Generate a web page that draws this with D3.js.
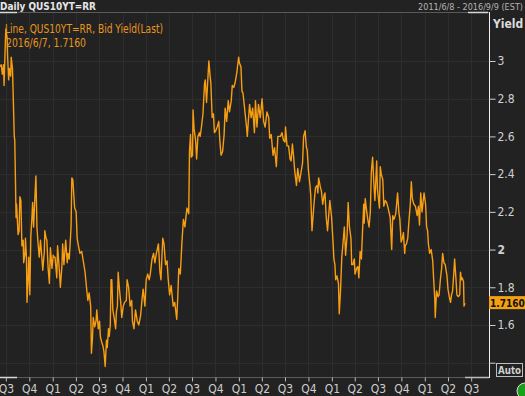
<!DOCTYPE html>
<html>
<head>
<meta charset="utf-8">
<title>QUS10YT=RR</title>
<script src="https://cdn.jsdelivr.net/npm/d3@7"></script>
<style>
  html, body { margin: 0; padding: 0; background: #222222; overflow: hidden; }
  svg { display: block; }
  text { font-family: "DejaVu Sans Condensed", "Liberation Sans Narrow", "DejaVu Sans", sans-serif; }
</style>
</head>
<body>
<svg id="chart" width="525" height="396"></svg>
<script>
// chart texts
var titleText = "Daily QUS10YT=RR";
var rangeText = "2011/6/8 - 2016/9/9 (EST)";
var legendLine1 = "Line, QUS10YT=RR, Bid Yield(Last)";
var legendLine2 = "2016/6/7, 1.7160";
var lastValue = 1.716;
var lastLabel = "1.7160";

var startDate = "2011-06-08";
var endDate = "2016-09-09";
var yTicks = [1.4, 1.6, 1.8, 2, 2.2, 2.4, 2.6, 2.8, 3];

// daily bid yield
var yieldSeries = [
["2011-06-08",2.97],["2011-06-13",2.98],["2011-06-17",2.93],["2011-06-22",2.98],["2011-06-24",2.87],
["2011-06-29",3.10],["2011-07-01",3.17],["2011-07-06",3.12],["2011-07-08",3.02],["2011-07-12",2.90],
["2011-07-15",2.96],["2011-07-20",2.92],["2011-07-22",3.02],["2011-07-27",2.96],["2011-07-29",2.86],
["2011-08-03",2.60],["2011-08-05",2.58],["2011-08-08",2.34],["2011-08-10",2.17],["2011-08-12",2.24],
["2011-08-18",2.08],["2011-08-22",2.10],["2011-08-25",2.28],["2011-08-29",2.26],["2011-09-02",2.02],
["2011-09-07",2.05],["2011-09-09",1.93],["2011-09-14",1.98],["2011-09-16",2.06],["2011-09-20",1.95],
["2011-09-22",1.72],["2011-09-26",1.84],["2011-09-29",1.96],["2011-10-03",1.76],["2011-10-07",2.07],
["2011-10-11",2.16],["2011-10-14",2.25],["2011-10-18",2.12],["2011-10-21",2.22],["2011-10-27",2.39],
["2011-10-31",2.12],["2011-11-04",2.04],["2011-11-09",1.96],["2011-11-14",2.05],["2011-11-18",1.98],
["2011-11-23",1.89],["2011-11-29",1.99],["2011-12-01",2.10],["2011-12-06",2.06],["2011-12-09",2.05],
["2011-12-14",1.90],["2011-12-19",1.82],["2011-12-23",2.01],["2011-12-29",1.90],["2012-01-03",1.97],
["2012-01-06",1.96],["2012-01-10",1.96],["2012-01-17",1.85],["2012-01-20",2.02],["2012-01-27",1.89],
["2012-01-31",1.80],["2012-02-06",1.91],["2012-02-09",2.03],["2012-02-14",1.92],["2012-02-21",2.05],
["2012-02-27",1.93],["2012-03-01",1.98],["2012-03-06",1.95],["2012-03-13",2.12],["2012-03-16",2.38],
["2012-03-20",2.37],["2012-03-27",2.22],["2012-04-02",2.20],["2012-04-06",2.06],["2012-04-11",2.02],
["2012-04-17",1.98],["2012-04-24",1.99],["2012-05-01",1.93],["2012-05-07",1.88],["2012-05-14",1.78],
["2012-05-18",1.73],["2012-05-23",1.77],["2012-05-29",1.70],["2012-06-01",1.45],["2012-06-05",1.53],
["2012-06-08",1.64],["2012-06-14",1.59],["2012-06-19",1.62],["2012-06-22",1.68],["2012-06-28",1.58],
["2012-07-03",1.62],["2012-07-06",1.54],["2012-07-11",1.51],["2012-07-16",1.49],["2012-07-20",1.46],
["2012-07-25",1.38],["2012-07-30",1.52],["2012-08-02",1.48],["2012-08-07",1.58],["2012-08-10",1.54],
["2012-08-14",1.60],["2012-08-17",1.84],["2012-08-20",1.84],["2012-08-24",1.68],["2012-08-29",1.64],
["2012-09-04",1.58],["2012-09-07",1.67],["2012-09-11",1.70],["2012-09-14",1.88],["2012-09-19",1.79],
["2012-09-24",1.72],["2012-09-28",1.64],["2012-10-04",1.70],["2012-10-09",1.72],["2012-10-16",1.73],
["2012-10-19",1.84],["2012-10-25",1.80],["2012-10-31",1.70],["2012-11-06",1.73],["2012-11-09",1.62],
["2012-11-15",1.58],["2012-11-21",1.68],["2012-11-28",1.62],["2012-12-04",1.60],["2012-12-11",1.65],
["2012-12-17",1.74],["2012-12-21",1.79],["2012-12-28",1.70],["2013-01-02",1.84],["2013-01-08",1.87],
["2013-01-14",1.84],["2013-01-18",1.87],["2013-01-25",1.95],["2013-01-31",1.98],["2013-02-05",1.93],
["2013-02-11",1.98],["2013-02-19",2.03],["2013-02-25",1.88],["2013-03-01",1.84],["2013-03-08",2.06],
["2013-03-13",2.03],["2013-03-19",1.92],["2013-03-25",1.94],["2013-03-29",1.85],["2013-04-04",1.76],
["2013-04-10",1.81],["2013-04-18",1.70],["2013-04-24",1.72],["2013-05-02",1.63],["2013-05-06",1.75],
["2013-05-10",1.90],["2013-05-16",1.87],["2013-05-22",2.03],["2013-05-28",2.16],["2013-06-03",2.12],
["2013-06-11",2.22],["2013-06-18",2.19],["2013-06-21",2.52],["2013-06-25",2.61],["2013-06-28",2.49],
["2013-07-03",2.50],["2013-07-05",2.74],["2013-07-09",2.64],["2013-07-15",2.58],["2013-07-19",2.48],
["2013-07-24",2.60],["2013-07-30",2.62],["2013-08-02",2.60],["2013-08-07",2.65],["2013-08-13",2.72],
["2013-08-19",2.88],["2013-08-22",2.90],["2013-08-27",2.78],["2013-09-05",3.00],["2013-09-10",2.92],
["2013-09-13",2.88],["2013-09-18",2.70],["2013-09-23",2.72],["2013-09-27",2.62],["2013-10-02",2.63],
["2013-10-08",2.65],["2013-10-14",2.68],["2013-10-18",2.58],["2013-10-23",2.50],["2013-10-29",2.52],
["2013-11-04",2.61],["2013-11-08",2.75],["2013-11-14",2.68],["2013-11-20",2.79],["2013-11-25",2.73],
["2013-12-02",2.79],["2013-12-06",2.87],["2013-12-12",2.86],["2013-12-18",2.89],["2013-12-24",2.94],
["2013-12-31",3.02],["2014-01-03",2.99],["2014-01-09",2.97],["2014-01-13",2.84],["2014-01-17",2.83],
["2014-01-24",2.74],["2014-01-31",2.65],["2014-02-03",2.60],["2014-02-07",2.68],["2014-02-12",2.77],
["2014-02-18",2.70],["2014-02-24",2.75],["2014-03-03",2.62],["2014-03-07",2.79],["2014-03-13",2.65],
["2014-03-19",2.77],["2014-03-26",2.70],["2014-04-02",2.80],["2014-04-08",2.68],["2014-04-14",2.65],
["2014-04-21",2.73],["2014-04-28",2.70],["2014-05-02",2.59],["2014-05-08",2.61],["2014-05-15",2.50],
["2014-05-21",2.54],["2014-05-28",2.44],["2014-06-03",2.60],["2014-06-09",2.60],["2014-06-13",2.60],
["2014-06-19",2.62],["2014-06-25",2.58],["2014-07-01",2.57],["2014-07-03",2.65],["2014-07-09",2.55],
["2014-07-15",2.55],["2014-07-21",2.48],["2014-07-25",2.47],["2014-07-30",2.56],["2014-08-04",2.49],
["2014-08-08",2.42],["2014-08-15",2.34],["2014-08-20",2.43],["2014-08-27",2.36],["2014-09-02",2.41],
["2014-09-08",2.46],["2014-09-12",2.60],["2014-09-18",2.63],["2014-09-23",2.54],["2014-09-26",2.53],
["2014-10-01",2.42],["2014-10-07",2.34],["2014-10-10",2.29],["2014-10-15",2.10],["2014-10-20",2.19],
["2014-10-24",2.26],["2014-10-29",2.33],["2014-11-04",2.34],["2014-11-07",2.30],["2014-11-10",2.38],
["2014-11-17",2.33],["2014-11-21",2.31],["2014-11-26",2.24],["2014-12-02",2.29],["2014-12-05",2.30],
["2014-12-10",2.17],["2014-12-15",2.10],["2014-12-19",2.17],["2014-12-24",2.26],["2014-12-31",2.17],
["2015-01-06",2.03],["2015-01-09",1.95],["2015-01-13",1.92],["2015-01-16",1.84],["2015-01-21",1.86],
["2015-01-27",1.82],["2015-01-30",1.66],["2015-02-04",1.78],["2015-02-09",1.96],["2015-02-13",2.02],
["2015-02-19",2.12],["2015-02-24",1.97],["2015-03-02",2.08],["2015-03-06",2.25],["2015-03-11",2.12],
["2015-03-17",2.06],["2015-03-20",1.92],["2015-03-25",1.92],["2015-03-30",1.95],["2015-04-02",1.87],
["2015-04-08",1.90],["2015-04-13",1.91],["2015-04-17",1.85],["2015-04-22",1.99],["2015-04-27",1.95],
["2015-04-30",2.05],["2015-05-06",2.24],["2015-05-08",2.14],["2015-05-12",2.27],["2015-05-18",2.20],
["2015-05-22",2.16],["2015-05-27",2.12],["2015-06-01",2.20],["2015-06-05",2.41],["2015-06-10",2.49],
["2015-06-15",2.35],["2015-06-19",2.26],["2015-06-24",2.41],["2015-06-26",2.47],["2015-06-29",2.32],
["2015-07-07",2.22],["2015-07-10",2.44],["2015-07-14",2.40],["2015-07-20",2.37],["2015-07-24",2.23],
["2015-07-30",2.26],["2015-08-04",2.25],["2015-08-10",2.22],["2015-08-13",2.20],["2015-08-18",2.17],
["2015-08-24",2.00],["2015-08-28",2.18],["2015-09-02",2.16],["2015-09-09",2.19],["2015-09-16",2.30],
["2015-09-21",2.20],["2015-09-25",2.16],["2015-09-30",2.04],["2015-10-05",2.06],["2015-10-09",2.09],
["2015-10-14",1.98],["2015-10-16",2.02],["2015-10-21",2.03],["2015-10-26",2.06],["2015-10-30",2.14],
["2015-11-05",2.24],["2015-11-09",2.36],["2015-11-13",2.27],["2015-11-19",2.24],["2015-11-25",2.23],
["2015-12-02",2.18],["2015-12-07",2.23],["2015-12-11",2.13],["2015-12-16",2.30],["2015-12-21",2.20],
["2015-12-29",2.30],["2016-01-04",2.24],["2016-01-08",2.12],["2016-01-12",2.10],["2016-01-15",2.03],
["2016-01-20",1.98],["2016-01-26",2.00],["2016-02-01",1.94],["2016-02-04",1.86],["2016-02-09",1.74],
["2016-02-11",1.64],["2016-02-16",1.78],["2016-02-22",1.75],["2016-02-26",1.76],["2016-03-02",1.84],
["2016-03-07",1.90],["2016-03-11",1.98],["2016-03-16",1.93],["2016-03-21",1.92],["2016-03-28",1.86],
["2016-04-01",1.79],["2016-04-06",1.75],["2016-04-11",1.72],["2016-04-15",1.76],["2016-04-19",1.78],
["2016-04-25",1.90],["2016-04-27",1.95],["2016-05-02",1.85],["2016-05-06",1.76],["2016-05-11",1.75],
["2016-05-17",1.76],["2016-05-20",1.88],["2016-05-24",1.84],["2016-05-27",1.85],["2016-06-01",1.83],
["2016-06-03",1.70],["2016-06-07",1.716]
];

var parse = d3.timeParse("%Y-%m-%d");
var data = yieldSeries.map(function(d) { return { date: parse(d[0]), value: d[1] }; });

var svg = d3.select("#chart");
var plot = { left: 0, right: 489, top: 13, bottom: 377 };

var xs = d3.scaleTime().domain([parse(startDate), parse(endDate)]).range([plot.left, plot.right]);
var ys = d3.scaleLinear().domain([1.3242, 3.2545]).range([plot.bottom, plot.top]);

var quarters = d3.timeMonth.every(3).range(d3.timeMonth.ceil(parse(startDate)), parse(endDate));

// background
svg.append("rect").attr("width", 525).attr("height", 396).attr("fill", "#222222");

// grid
svg.append("g").selectAll("line").data(quarters).enter().append("line")
  .attr("x1", d => Math.round(xs(d)) + 0.5).attr("x2", d => Math.round(xs(d)) + 0.5)
  .attr("y1", plot.top).attr("y2", plot.bottom)
  .attr("stroke", "#2d2d2d").attr("stroke-width", 1);
svg.append("g").selectAll("line").data(yTicks).enter().append("line")
  .attr("x1", plot.left).attr("x2", plot.right)
  .attr("y1", d => Math.round(ys(d)) + 0.5).attr("y2", d => Math.round(ys(d)) + 0.5)
  .attr("stroke", "#2d2d2d").attr("stroke-width", 1);

// frame lines (top / bottom scroll bars, right edge)
svg.append("line").attr("x1", 0).attr("x2", 489).attr("y1", 12.5).attr("y2", 12.5).attr("stroke", "#5a5a5a");
svg.append("line").attr("x1", 0).attr("x2", 17).attr("y1", 12.5).attr("y2", 12.5).attr("stroke", "#d8d8d8").attr("stroke-width", 1.5);
svg.append("line").attr("x1", 468).attr("x2", 488).attr("y1", 12.5).attr("y2", 12.5).attr("stroke", "#d8d8d8").attr("stroke-width", 1.5);
svg.append("line").attr("x1", 0).attr("x2", 489).attr("y1", 377.5).attr("y2", 377.5).attr("stroke", "#5a5a5a");
svg.append("line").attr("x1", 0).attr("x2", 17).attr("y1", 377.5).attr("y2", 377.5).attr("stroke", "#d8d8d8").attr("stroke-width", 1.5);
svg.append("line").attr("x1", 465).attr("x2", 489).attr("y1", 377.5).attr("y2", 377.5).attr("stroke", "#bdbdbd").attr("stroke-width", 1.5);
svg.append("line").attr("x1", 489.5).attr("x2", 489.5).attr("y1", 12).attr("y2", 378).attr("stroke", "#f0f0f0");

// series line
var line = d3.line().x(d => xs(d.date)).y(d => ys(d.value));
svg.append("path").datum(data)
  .attr("d", line)
  .attr("fill", "none")
  .attr("stroke", "#f79e12")
  .attr("stroke-width", 1.4)
  .attr("stroke-linejoin", "round");

// y axis on the right
var yAxis = svg.append("g")
  .attr("transform", "translate(489.5,0)")
  .call(d3.axisRight(ys).tickValues(yTicks).tickSize(6).tickPadding(2)
    .tickFormat(d => d === 1.4 ? "" : d3.format("")(d)));
yAxis.select(".domain").remove();
yAxis.selectAll(".tick line").attr("stroke", "#cfcfcf");
yAxis.selectAll(".tick text").attr("fill", "#d0d0d0").attr("font-size", 12)
  .attr("font-weight", d => d === 2 ? "bold" : "normal");

// x axis (quarters)
var xAxis = svg.append("g")
  .attr("transform", "translate(0,377.5)")
  .call(d3.axisBottom(xs).tickValues(quarters).tickSize(4).tickPadding(3)
    .tickFormat(d => "Q" + (Math.floor(d.getMonth() / 3) + 1)));
xAxis.select(".domain").remove();
xAxis.selectAll(".tick line").attr("stroke", "#bdbdbd");
xAxis.selectAll(".tick text").attr("fill", "#cfcfcf").attr("font-size", 12);

// headers
svg.append("text").attr("x", 0).attr("y", 10).text(titleText)
  .attr("fill", "#e6e6e6").attr("font-size", 11).attr("font-weight", "bold")
  .attr("textLength", 96).attr("lengthAdjust", "spacingAndGlyphs");
svg.append("text").attr("x", 523).attr("y", 10).attr("text-anchor", "end").text(rangeText)
  .attr("fill", "#b4b4b4").attr("font-size", 9);
svg.append("text").attr("x", 493).attr("y", 28).text("Yield")
  .attr("fill", "#dcdcdc").attr("font-size", 12).attr("font-weight", "bold");

// legend
svg.append("text").attr("x", 5).attr("y", 33).text(legendLine1)
  .attr("fill", "#e8961e").attr("font-size", 12)
  .attr("textLength", 158).attr("lengthAdjust", "spacingAndGlyphs");
svg.append("text").attr("x", 6).attr("y", 47).text(legendLine2)
  .attr("fill", "#e8961e").attr("font-size", 12)
  .attr("textLength", 80).attr("lengthAdjust", "spacingAndGlyphs");

// last value tag
svg.append("rect").attr("x", 489).attr("y", ys(lastValue) - 7).attr("width", 36).attr("height", 13)
  .attr("fill", "#f5a010");
svg.append("text").attr("x", 490).attr("y", ys(lastValue) + 4).text(lastLabel)
  .attr("fill", "#111").attr("font-size", 10).attr("font-weight", "bold");

// Auto button and status dot
svg.append("rect").attr("x", 496.5).attr("y", 363.5).attr("width", 26).attr("height", 13)
  .attr("fill", "none").attr("stroke", "#bdbdbd");
svg.append("text").attr("x", 498).attr("y", 374).text("Auto")
  .attr("fill", "#d0d0d0").attr("font-size", 10).attr("font-weight", "bold")
  .attr("textLength", 23).attr("lengthAdjust", "spacingAndGlyphs");
svg.append("circle").attr("cx", 525).attr("cy", 391).attr("r", 8)
  .attr("fill", "#18a018").attr("stroke", "#dddddd").attr("stroke-width", 1);
</script>
</body>
</html>
